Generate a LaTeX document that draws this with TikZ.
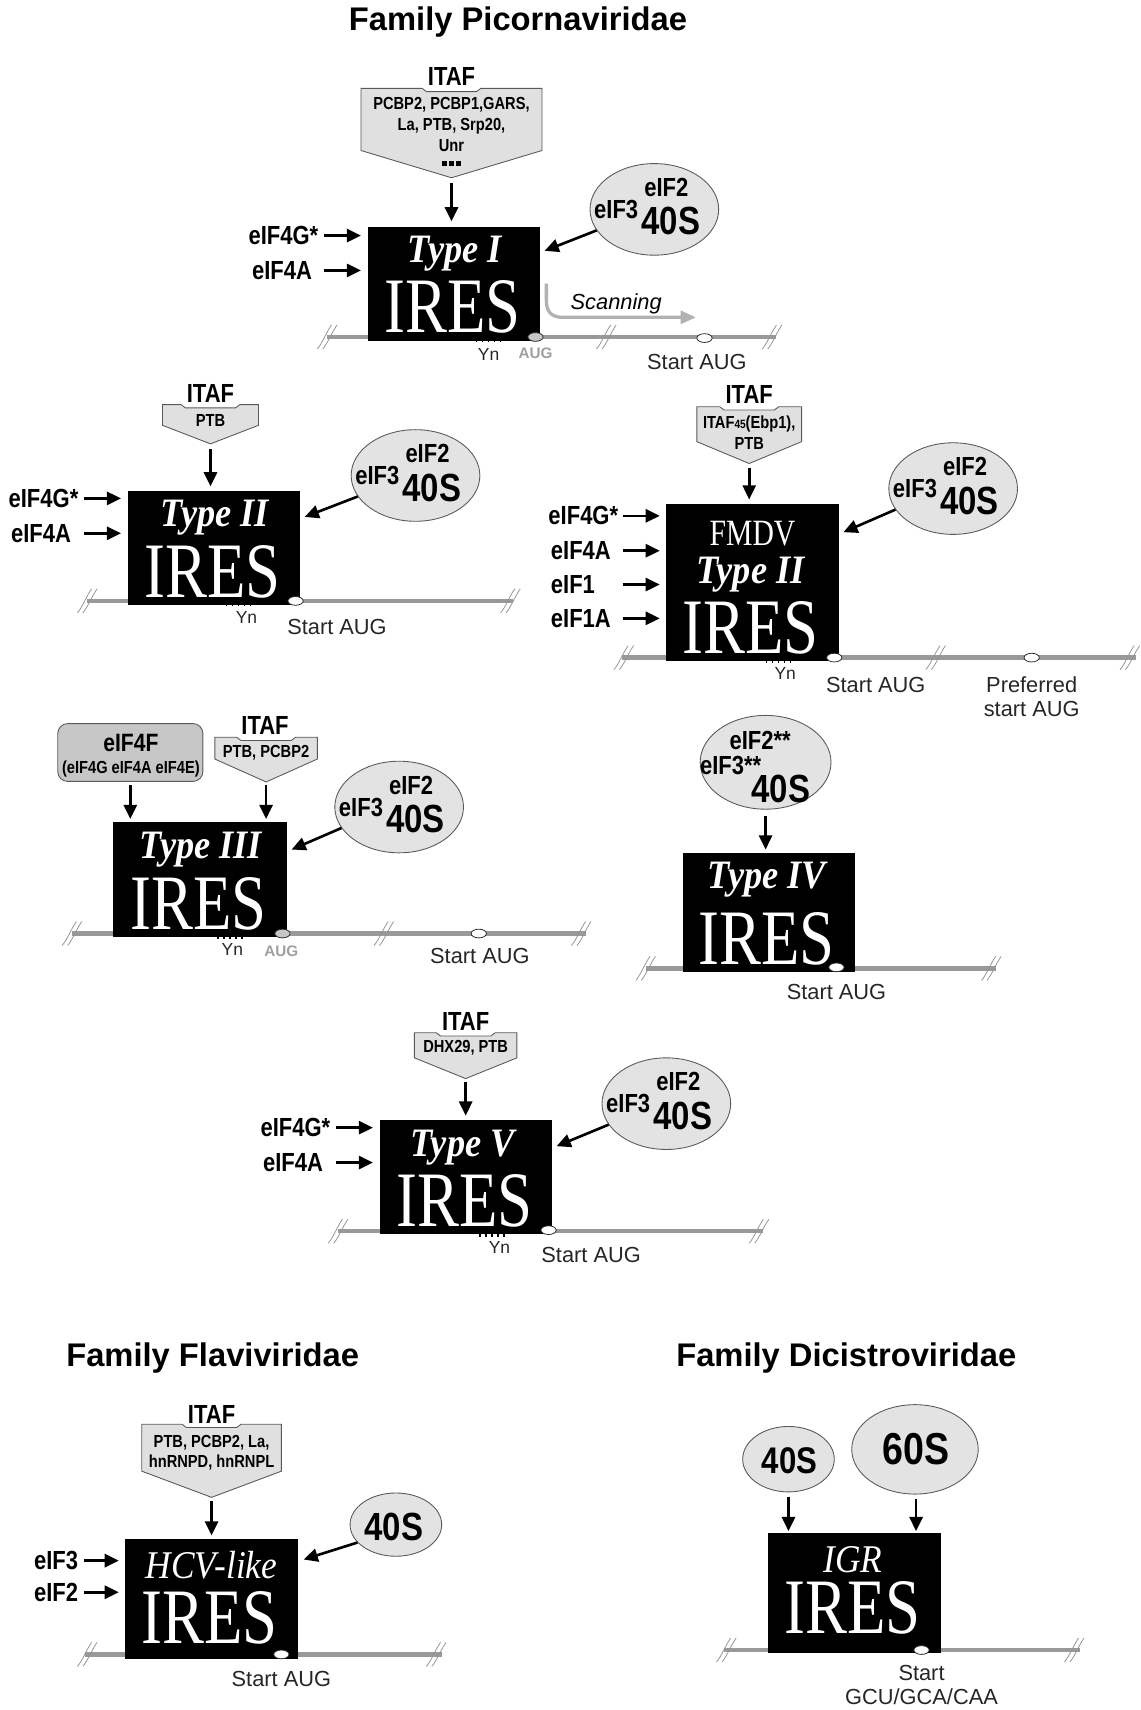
\documentclass[tikz,border=0pt]{standalone}
\usepackage{fontspec}
\setmainfont{Liberation Sans}
\newfontfamily\nb{Liberation Sans}[FakeStretch=0.84]
\newfontfamily\srf{Liberation Serif}[FakeStretch=0.8]
\newfontfamily\sri{Liberation Serif}[FakeStretch=0.9]
\usetikzlibrary{arrows.meta,calc,shapes.geometric}
\definecolor{rnagray}{gray}{0.6}
\definecolor{ellgray}{gray}{0.89}
\definecolor{pentgray}{gray}{0.88}
\definecolor{fgray}{gray}{0.78}
\definecolor{edgegray}{gray}{0.35}
\newcommand\fs[1]{\fontsize{#1}{#1}\selectfont}
\tikzset{
 arr/.style={line width=2.4pt,-{Triangle[length=13pt,width=12pt]}},
 scan/.style={line width=3pt,draw=gray!60,-{Triangle[length=14pt,width=12pt]}},
 rna/.style={line width=4pt,draw=rnagray},
 brkst/.style={line width=0.7pt,draw=gray!85},
 ires/.style={fill=black,draw=black,inner sep=0,anchor=north west},
 fac/.style={font=\nb\bfseries\fs{24},inner sep=0},
 big/.style={font=\nb\bfseries\fs{36},inner sep=0},
 small/.style={font=\nb\bfseries\fontsize{16}{19}\selectfont,inner sep=0,align=center},
 rib/.style={ellipse,fill=ellgray,draw=edgegray,line width=0.8pt,inner sep=0},
 aug/.style={ellipse,minimum width=14pt,minimum height=8pt,inner sep=0,draw=black!85,fill=white,line width=0.7pt},
 augg/.style={aug,fill=gray!45},
 augt/.style={font=\bfseries\fs{14},text=gray!75,inner sep=0},
 lab/.style={font=\fontsize{20}{22}\selectfont,text=black!85,inner sep=0,align=center},
 yn/.style={font=\fs{16},text=black!85,inner sep=0},
 tlab/.style={font=\sri\bfseries\itshape\fs{37},text=white,inner sep=0,anchor=base},
 tlabr/.style={font=\sri\itshape\fs{36},text=white,inner sep=0,anchor=base},
 irs/.style={font=\srf\fs{72},text=white,inner sep=0,anchor=base},
 pentst/.style={fill=pentgray,draw=edgegray,line width=0.8pt},
 ttl/.style={font=\bfseries\fs{30},inner sep=0},
}
\newcommand\brkmark[2]{%
 \draw[brkst] (#1-9,#2+11) .. controls (#1-4,#2+5) and (#1-1,#2-4) .. (#1+4,#2-11);
 \draw[brkst] (#1-4,#2+11) .. controls (#1+1,#2+5) and (#1+4,#2-4) .. (#1+9,#2-11);}
\newcommand\ynticks[2]{\foreach \i in {0,...,4}{\draw[line width=1.2pt,black] (#1+\i*5.5,#2+1) -- (#1+\i*5.5,#2+5);}}
\newcommand\pent[6]{%
 \draw[pentst] (#2-#4,#3) -- (#2-27,#3) -- (#2-23,#3+3) -- (#2+23,#3+3) -- (#2+27,#3) -- (#2+#4,#3) -- (#2+#4,#5) -- (#2,#6) -- (#2-#4,#5) -- cycle;
 \coordinate (#1) at (#2,#6);}
\newcommand\ribo[3]{%
 \node[rib,minimum width=118pt,minimum height=84pt] (#1) at (#2,#3) {};
 \node[fac] (#1a) at (#2-35,#3) {eIF3};
 \node[fac] (#1b) at (#2+11,#3-20) {eIF2};
 \node[big] (#1c) at (#2+15,#3+11) {40S};}
\begin{document}
\begin{tikzpicture}[x=1pt,y=-1pt]
\useasboundingbox (0,0) rectangle (1046,1568);
% ============ Type I
\node[ttl] (t1) at (475,20) {Family Picornaviridae};
\pent{p1}{414}{81}{83}{138}{163}
\node[fac] (i1) at (414,70) {ITAF};
\node[small] (i1t) at (414,114) {PCBP2, PCBP1,GARS,\\La, PTB, Srp20,\\Unr};
\node[inner sep=0] (i1d) at (414,150) {\rule{4pt}{4pt}\hspace{2.5pt}\rule{4pt}{4pt}\hspace{2.5pt}\rule{4pt}{4pt}};
\draw[rna] (300,309) -- (712,309);
\brkmark{300}{309}\brkmark{556}{309}\brkmark{708}{309}
\node[ires,minimum width=157pt,minimum height=104pt] (b1) at (337,208) {};
\node[tlab] (b1t) at (417,241) {Type I};
\node[irs] (b1i) at (415,305) {IRES};
\ynticks{437}{309}
\node[yn] (yn1) at (448,325) {Yn};
\node[augg] (a1) at (491,309) {};
\node[augt] (a1t) at (491,324) {AUG};
\node[aug] (s1) at (646,310) {};
\node[lab] (s1t) at (639,332) {Start AUG};
\coordinate (sc1) at (501,260);
\coordinate (sc2) at (638,291);
\draw[scan] (sc1) -- (501,276) .. controls (501,286) and (506,291) .. (516,291) -- (sc2);
\node[font=\itshape\fs{20},inner sep=0] (scn) at (565,279) {Scanning};
\node[fac,anchor=east] (g1) at (292,216) {eIF4G*};
\node[fac,anchor=west] (g2) at (231,248) {eIF4A};
\draw[arr] ($(b1.west|-g1)+(-40,0)$) -- ($(b1.west|-g1)+(-6,0)$);
\draw[arr] ($(b1.west|-g2)+(-40,0)$) -- ($(b1.west|-g2)+(-6,0)$);
\draw[arr] ($(p1)+(0,5)$) -- ($(b1.north-|p1)+(0,-5)$);
\ribo{r1}{600}{192}
\draw[arr] (r1.200) -- ($(b1.north east)+(5,22)$);
% ============ Type II
\pent{p2}{193}{371}{44}{390}{407}
\node[fac] (i2) at (193,361) {ITAF};
\node[small] (i2t) at (193,386) {PTB};
\draw[rna] (80,551) -- (470,551);
\brkmark{80}{551}\brkmark{468}{551}
\node[ires,minimum width=157pt,minimum height=104pt] (b2) at (117,450) {};
\node[tlab] (b2t) at (197,483) {Type II};
\node[irs] (b2i) at (195,548) {IRES};
\ynticks{208}{551}
\node[yn] (yn2) at (226,566) {Yn};
\node[aug] (s2) at (271,551) {};
\node[lab] (s2t) at (309,575) {Start AUG};
\node[fac,anchor=east] (g3) at (72,457) {eIF4G*};
\node[fac,anchor=west] (g4) at (10,489) {eIF4A};
\draw[arr] ($(b2.west|-g3)+(-40,0)$) -- ($(b2.west|-g3)+(-6,0)$);
\draw[arr] ($(b2.west|-g4)+(-40,0)$) -- ($(b2.west|-g4)+(-6,0)$);
\draw[arr] ($(p2)+(0,5)$) -- ($(b2.north-|p2)+(0,-4)$);
\ribo{r2}{381}{436}
\draw[arr] (r2.200) -- ($(b2.north east)+(5,24)$);
% ============ FMDV
\pent{p3}{687}{373}{48}{405}{425}
\node[fac] (i3) at (687,362) {ITAF};
\node[small] (i3t) at (687,397) {ITAF{\fontsize{11}{11}\selectfont 45}(Ebp1),\\PTB};
\draw[rna] (570,603) -- (1042,603);
\brkmark{572}{603}\brkmark{858}{603}\brkmark{1036}{603}
\node[ires,minimum width=157pt,minimum height=143pt] (b3) at (611,462) {};
\node[font=\srf\fs{34},text=white,inner sep=0,anchor=base] (b3f) at (690,500) {FMDV};
\node[tlab] (b3t) at (688,535) {Type II};
\node[irs] (b3i) at (688,599) {IRES};
\ynticks{703}{603}
\node[yn] (yn3) at (720,618) {Yn};
\node[aug] (s3) at (765,603) {};
\node[lab] (s3t) at (803,628) {Start AUG};
\node[aug] (s3b) at (946,603) {};
\node[lab] (s3u) at (946,639) {Preferred\\start AUG};
\node[fac,anchor=east] (g5) at (567,473) {eIF4G*};
\node[fac,anchor=west] (g6) at (505,505) {eIF4A};
\node[fac,anchor=west] (g7) at (505,536) {eIF1};
\node[fac,anchor=west] (g8) at (505,567) {eIF1A};
\foreach \g in {g5,g6,g7,g8}{\draw[arr] ($(b3.west|-\g)+(-40,0)$) -- ($(b3.west|-\g)+(-6,0)$);}
\draw[arr] ($(p3)+(0,4)$) -- ($(b3.north-|p3)+(0,-4)$);
\ribo{r3}{874}{448}
\draw[arr] (r3.200) -- ($(b3.north east)+(5,26)$);
% ============ Type III
\node[draw=edgegray,fill=fgray,rounded corners=9pt,minimum width=133pt,minimum height=53pt,line width=0.8pt,inner sep=0] (f4) at (119.5,690) {};
\node[font=\nb\bfseries\fs{23},inner sep=0] (f4a) at (120,681) {eIF4F};
\node[small] (f4b) at (120,705) {(eIF4G eIF4A eIF4E)};
\pent{p4}{244}{676}{47}{696}{717}
\node[fac] (i4) at (243,665) {ITAF};
\node[small] (i4t) at (244,690) {PTB, PCBP2};
\draw[rna] (66,856) -- (537,856);
\brkmark{66}{856}\brkmark{352}{856}\brkmark{533}{856}
\node[ires,minimum width=158pt,minimum height=104pt] (b4) at (104,754) {};
\node[tlab] (b4t) at (184,787) {Type III};
\node[irs] (b4i) at (182,852) {IRES};
\ynticks{200}{856}
\node[yn] (yn4) at (213,871) {Yn};
\node[augg] (a4) at (259,856) {};
\node[augt] (a4t) at (258,872) {AUG};
\node[aug] (s4) at (439,856) {};
\node[lab] (s4t) at (440,877) {Start AUG};
\draw[arr] ($(f4.south)+(0,3)$) -- ($(b4.north-|f4.south)+(0,-3)$);
\draw[arr] ($(p4)+(0,3)$) -- ($(b4.north-|p4)+(0,-3)$);
\ribo{r4}{366}{740}
\draw[arr] (r4.200) -- ($(b4.north east)+(5,25)$);
% ============ Type IV
\node[rib,minimum width=120pt,minimum height=86pt] (r5) at (702,699) {};
\node[fac] (r5b) at (697,679) {eIF2**};
\node[fac] (r5a) at (670,702) {eIF3**};
\node[big] (r5c) at (716,723) {40S};
\draw[rna] (592,888) -- (913,888);
\brkmark{592}{888}\brkmark{909}{888}
\node[ires,minimum width=157pt,minimum height=108pt] (b5) at (626,782) {};
\node[tlab] (b5t) at (703,815) {Type IV};
\node[irs] (b5i) at (703,884) {IRES};
\node[aug] (s5) at (767,887) {};
\node[lab] (s5t) at (767,910) {Start AUG};
\draw[arr] ($(r5.south)+(0,6)$) -- ($(b5.north-|r5.south)+(0,-3)$);
% ============ Type V
\pent{p6}{427}{947}{47}{970}{989}
\node[fac] (i6) at (427,937) {ITAF};
\node[small] (i6t) at (427,961) {DHX29, PTB};
\draw[rna] (310,1129) -- (700,1129);
\brkmark{310}{1129}\brkmark{696}{1129}
\node[ires,minimum width=157pt,minimum height=104pt] (b6) at (348,1027) {};
\node[tlab] (b6t) at (424,1060) {Type V};
\node[irs] (b6i) at (426,1125) {IRES};
\ynticks{440}{1129}
\node[yn] (yn6) at (458,1144) {Yn};
\node[aug] (s6) at (503,1128) {};
\node[lab] (s6t) at (542,1151) {Start AUG};
\node[fac,anchor=east] (g9) at (303,1034) {eIF4G*};
\node[fac,anchor=west] (g10) at (241,1066) {eIF4A};
\draw[arr] ($(b6.west|-g9)+(-40,0)$) -- ($(b6.west|-g9)+(-6,0)$);
\draw[arr] ($(b6.west|-g10)+(-40,0)$) -- ($(b6.west|-g10)+(-6,0)$);
\draw[arr] ($(p6)+(0,3)$) -- ($(b6.north-|p6)+(0,-4)$);
\ribo{r6}{611}{1012}
\draw[arr] (r6.200) -- ($(b6.north east)+(5,24)$);
% ============ Titles
\node[ttl] (t2) at (195,1245) {Family Flaviviridae};
\node[ttl] (t3) at (776,1245) {Family Dicistroviridae};
% ============ HCV-like
\pent{p7}{194}{1306}{64}{1349}{1373}
\node[fac] (i7) at (194,1297) {ITAF};
\node[small] (i7t) at (194,1332) {PTB, PCBP2, La,\\hnRNPD, hnRNPL};
\draw[rna] (78,1517) -- (405,1517);
\brkmark{80}{1517}\brkmark{400}{1517}
\node[ires,minimum width=157pt,minimum height=109pt] (b7) at (115,1411) {};
\node[tlabr] (b7t) at (194,1447) {HCV-like};
\node[irs] (b7i) at (192,1507) {IRES};
\node[aug] (s7) at (258,1517) {};
\node[lab] (s7t) at (258,1540) {Start AUG};
\node[fac,anchor=west] (g11) at (31,1431) {eIF3};
\node[fac,anchor=west] (g12) at (31,1460) {eIF2};
\draw[arr] ($(b7.west|-g11)+(-38,0)$) -- ($(b7.west|-g11)+(-6,0)$);
\draw[arr] ($(b7.west|-g12)+(-38,0)$) -- ($(b7.west|-g12)+(-6,0)$);
\draw[arr] ($(p7)+(0,3)$) -- ($(b7.north-|p7)+(0,-3)$);
\node[rib,minimum width=84pt,minimum height=58pt] (r7) at (363,1398) {};
\node[big] (r7c) at (361,1400) {40S};
\draw[arr] (r7.205) -- ($(b7.north east)+(6,19)$);
% ============ IGR
\node[rib,minimum width=84pt,minimum height=60pt] (r8) at (723,1338) {};
\node[font=\nb\bfseries\fs{34},inner sep=0] (r8c) at (724,1339) {40S};
\node[rib,minimum width=116pt,minimum height=82pt] (r9) at (839,1329) {};
\node[font=\nb\bfseries\fs{41},inner sep=0] (r9c) at (840,1329) {60S};
\draw[rna] (664,1513) -- (990,1513);
\brkmark{666}{1513}\brkmark{985}{1513}
\node[ires,minimum width=158pt,minimum height=109pt] (b8) at (704,1406) {};
\node[tlabr] (b8t) at (782,1442) {IGR};
\node[irs] (b8i) at (782,1498) {IRES};
\node[aug] (s8) at (845,1513) {};
\node[lab] (s8t) at (845,1545) {Start\\GCU/GCA/CAA};
\draw[arr] ($(r8.south)+(0,4)$) -- ($(b8.north-|r8.south)+(0,-2)$);
\draw[arr] ($(r9.south-|r9c)+(0,4)$) -- ($(b8.north-|r9c)+(0,-2)$);
\end{tikzpicture}
\end{document}
